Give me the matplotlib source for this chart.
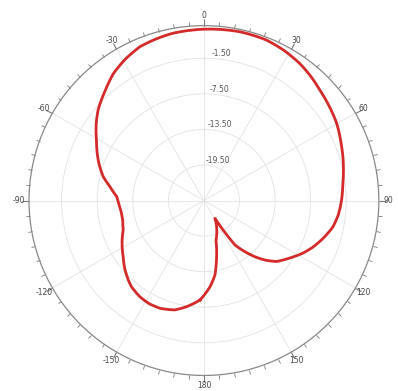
import numpy as np
import matplotlib
matplotlib.use("Agg")
import matplotlib.pyplot as plt
from matplotlib.ticker import FixedLocator

# Radiation pattern (angle in degrees, clockwise from top; gain in dB)
angles_deg = [-177.7, -170.7, -165.0, -157.8, -152.0, -146.4, -140.0, -136.4,
              -130.0, -124.9, -117.0, -110.1, -104.0, -98.8, -93.0, -87.5,
              -81.6, -76.7, -70.0, -60.6, -55.0, -49.4, -42.0, -35.5, -29.0,
              -22.6, -16.0, -10.4, -5.0, 0.0, 6.0, 12.0, 21.3, 28.0, 35.0,
              41.0, 46.4, 53.0, 59.8, 68.0, 76.4, 83.0, 90.0, 96.0, 101.6,
              107.0, 113.1, 118.0, 122.4, 126.0, 130.0, 134.3, 137.8, 141.0,
              145.1, 148.3, 163.1, 168.1, 171.6, 176.0, 182.3]
gain_db = [-8.7, -7.35, -6.4, -5.87, -5.8, -6.0, -6.5, -7.0,
           -8.0, -8.9, -10.0, -11.0, -11.4, -11.45, -11.2, -10.8,
           -9.5, -8.05, -6.6, -4.7, -3.3, -2.0, -0.6, 0.8, 1.8,
           2.6, 2.95, 3.2, 3.3, 3.4, 3.5, 3.6, 3.55, 3.2, 2.7,
           2.1, 1.5, 0.95, 0.4, -0.5, -1.3, -1.9, -2.3, -2.7, -3.3,
           -4.3, -5.5, -6.6, -7.73, -8.6, -9.5, -11.13, -12.7, -14.3,
           -16.36, -21.97, -18.5, -15.25, -12.8, -10.9, -8.7]

r_ticks = [-19.5, -13.5, -7.5, -1.5]
r_tick_labels = ["-19.50", "-13.50", "-7.50", "-1.50"]
theta_ticks = [0, 30, 60, 90, 120, 150, 180, 210, 240, 270, 300, 330]
theta_labels = ["0", "30", "60", "90", "120", "150", "180",
                "-150", "-120", "-90", "-60", "-30"]
r_min, r_max = -25.5, 4.0

fig = plt.figure(figsize=(3.98, 3.91), dpi=100)
ax = fig.add_axes([0.0729, 0.0396, 0.879, 0.895], projection="polar")
ax.set_theta_zero_location("N")
ax.set_theta_direction(-1)

line, = ax.plot(np.radians(angles_deg), gain_db, color="#d42a2a", lw=2.0,
                solid_joinstyle="round", zorder=5)
line.get_path()._interpolation_steps = 20

ax.set_ylim(r_min, r_max)
ax.set_yticks(r_ticks)
ax.set_yticklabels(r_tick_labels, fontsize=5.5, color="#555555")
ax.set_rlabel_position(3)

ax.set_xticks(np.radians(theta_ticks))
ax.set_xticklabels(theta_labels, fontsize=5.5, color="#444444")
ax.xaxis.set_minor_locator(FixedLocator(np.radians(np.arange(0, 360, 5))))
ax.tick_params(axis="x", which="both", bottom=False, top=True,
               direction="out", color="#777777")
ax.tick_params(axis="x", which="major", pad=-5, length=5, width=0.8)
ax.tick_params(axis="x", which="minor", length=3, width=0.6)

ax.grid(True, color="#e2e2e2", lw=0.6)
ax.spines["polar"].set_color("#888888")
ax.spines["polar"].set_linewidth(0.9)

fig.savefig("out.png", dpi=100)
